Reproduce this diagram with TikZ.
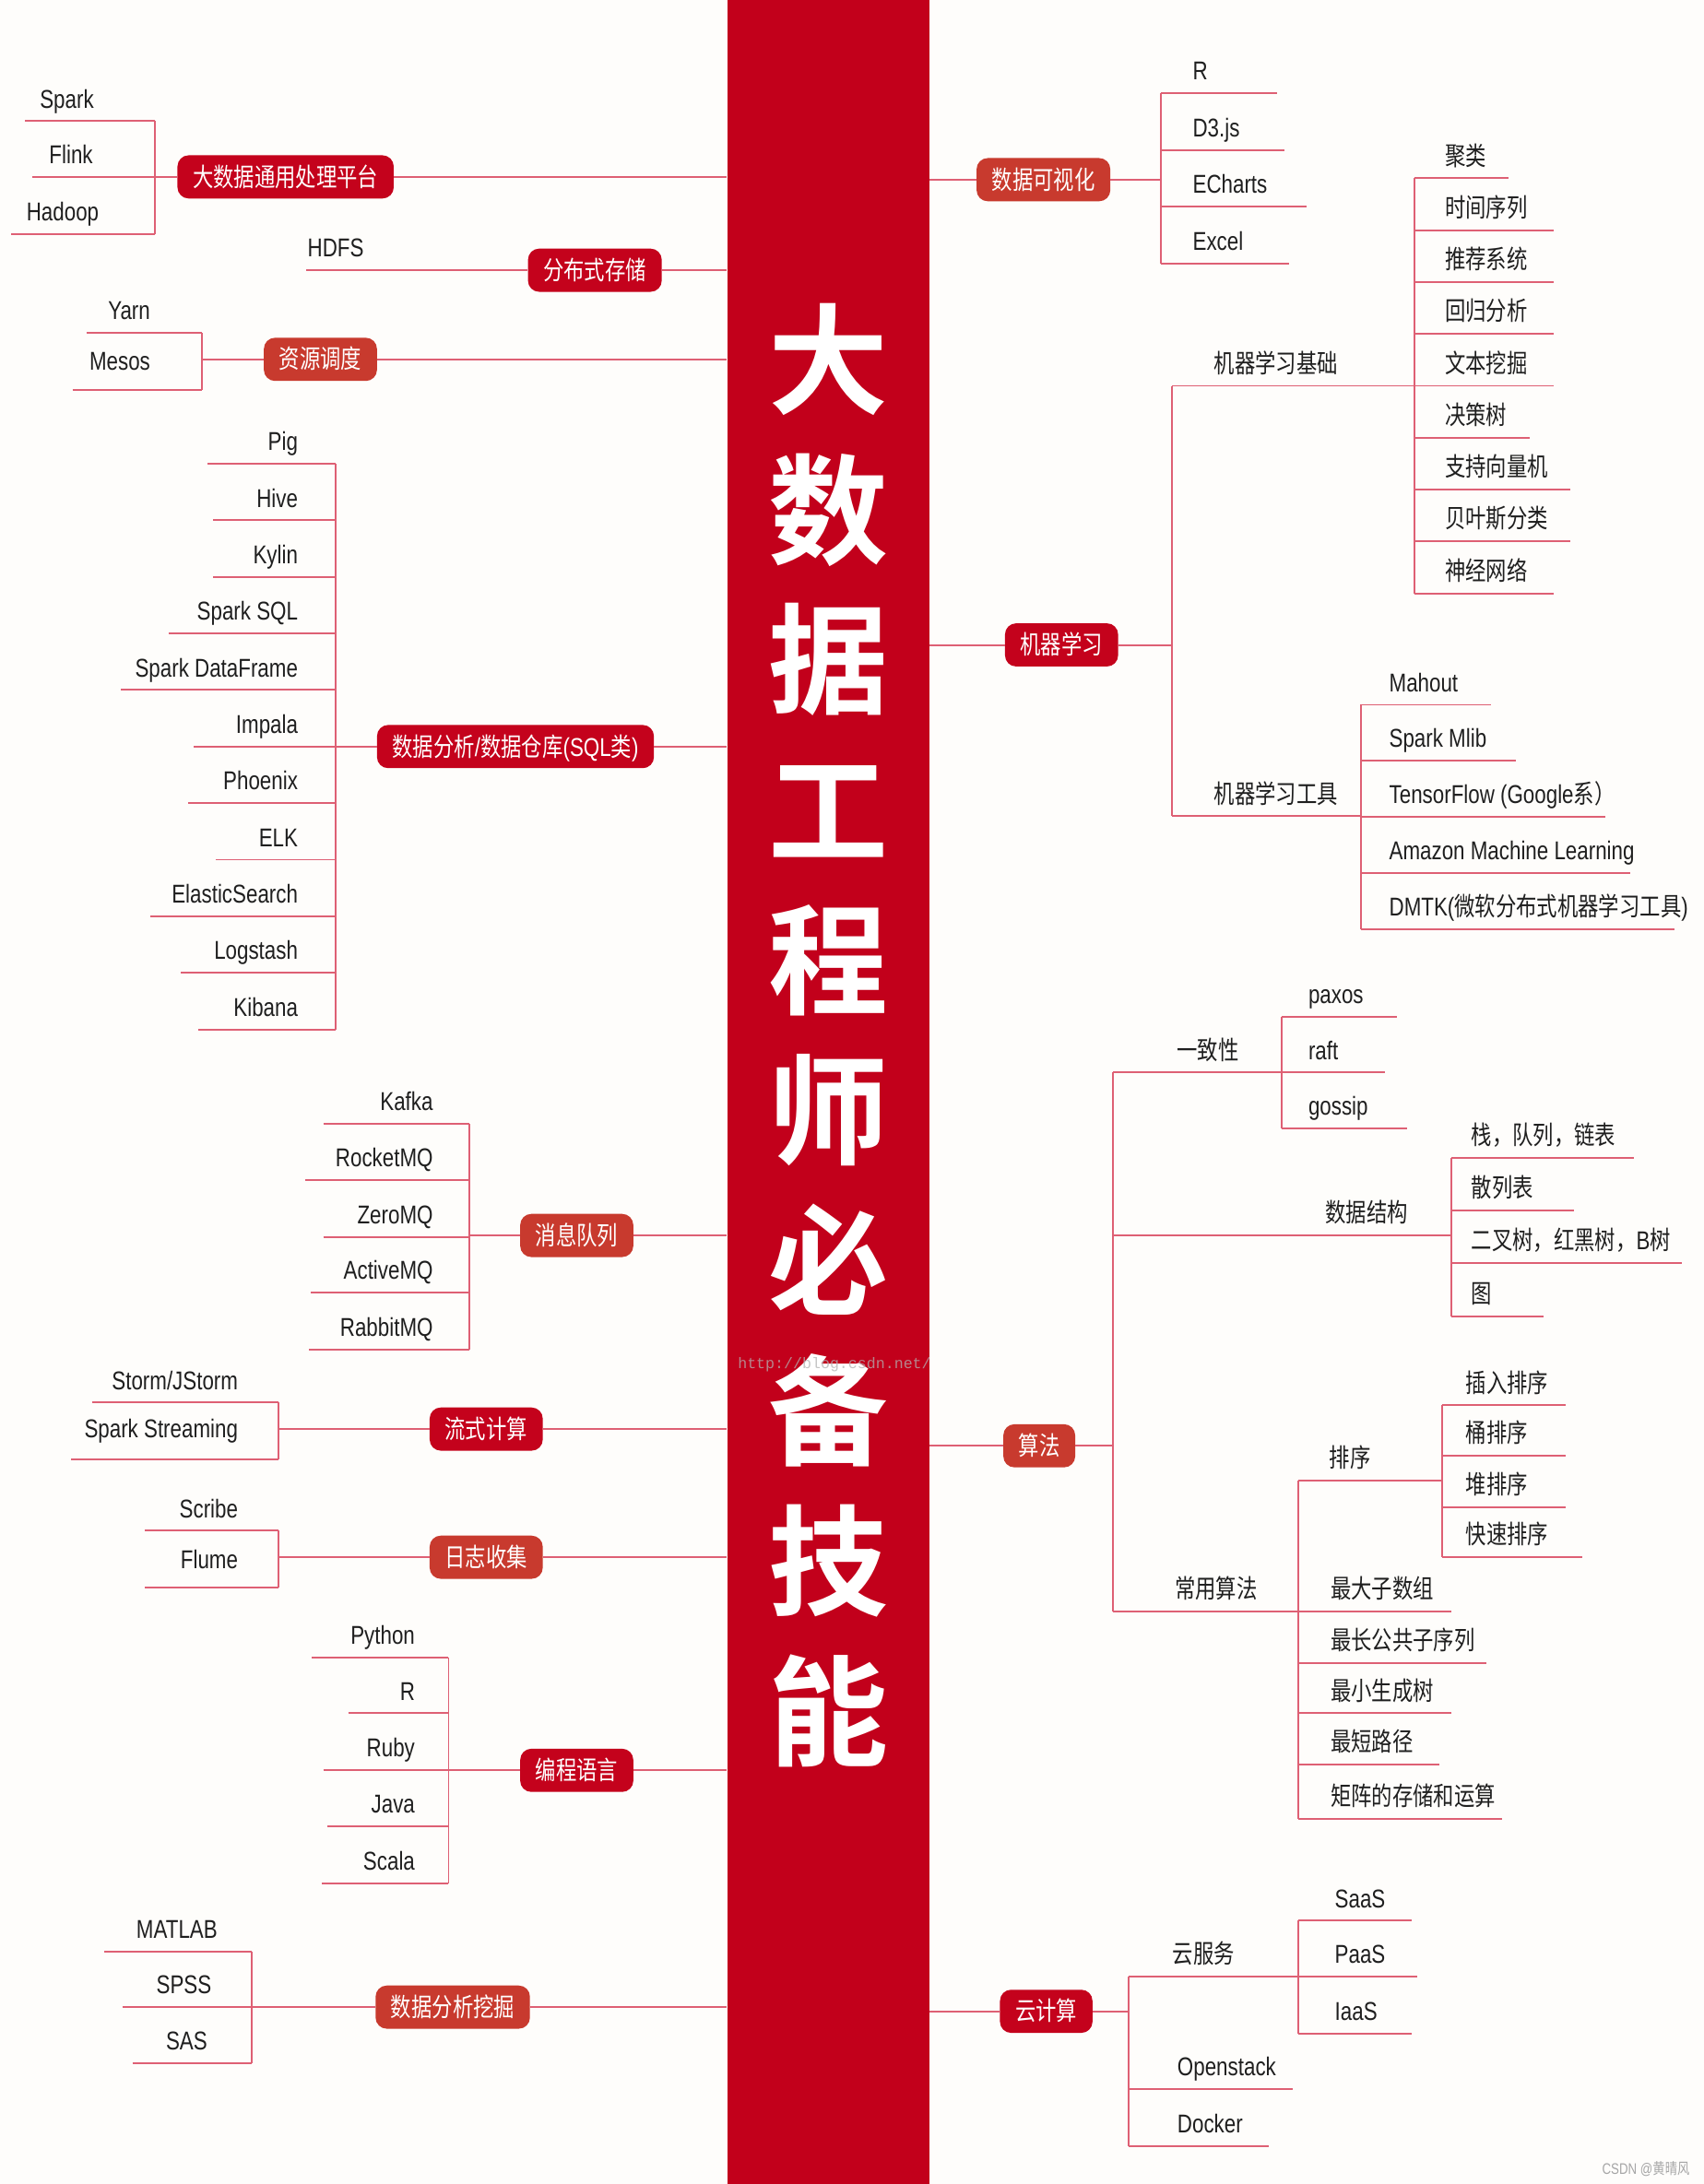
\documentclass[tikz,border=0pt]{standalone}
\usepackage{fontspec}
\setmainfont{Liberation Sans}[FakeStretch=0.8]
\newfontfamily\zhfont{Noto Sans CJK SC}[FakeStretch=0.8]
\newfontfamily\titelfont{Noto Sans CJK SC Bold}
\newfontfamily\webfont{Liberation Mono}
\newcommand\zh[1]{{\zhfont #1}}

\definecolor{balkrood}{RGB}{194,0,27}
\definecolor{donkerrood}{RGB}{196,2,28}
\definecolor{oranjerood}{RGB}{200,58,46}
\definecolor{takrood}{RGB}{222,96,116}
\definecolor{papier}{RGB}{254,253,251}

\tikzset{
  tak/.style={draw=takrood, line width=1.3pt},
  blad/.style={inner sep=0pt, anchor=base, text=black!88, font=\fontsize{18.5}{20}\selectfont},
  doos/.style={rounded corners=8pt, minimum height=31pt, inner xsep=11pt, inner ysep=0pt,
    text height=15pt, text depth=1.5pt, text=white, font=\fontsize{18.5}{20}\selectfont},
  doosA/.style={doos, fill=donkerrood},
  doosB/.style={doos, fill=oranjerood},
  titel/.style={inner sep=0pt, anchor=base, text=white, font=\titelfont\fontsize{86}{86}\selectfont},
}

\begin{document}
\begin{tikzpicture}[x=1pt,y=-1pt]
% Achtergrond
\fill[papier] (0,0) rectangle (1223,1568);
\useasboundingbox (0,0) rectangle (1223,1568);

% Balk
\node[fill=balkrood, minimum width=145pt, minimum height=1568pt, inner sep=0pt] (balk) at (594.5,784) {};

% Links: verwerking
\node[doosA] (bdp) at (205,127) {\zh{大数据通用处理平台}};
\draw[tak] (bdp.east) -- (bdp.east -| balk.west);
\draw[tak] (bdp.west) -- (111,127);
\draw[tak] (111,87) -- (111,168);
\foreach \t/\x/\y/\xs [count=\i] in {Spark/48/87/18, Flink/51/127/23, Hadoop/45/168/8}{
  \node[blad] (bdp-\i) at (\x,\y-9.5) {\t};
  \draw[tak] (\xs,\y) -- (111,\y);
}

% Links: opslag
\node[doosA] (opslag) at (427,194) {\zh{分布式存储}};
\draw[tak] (opslag.east) -- (opslag.east -| balk.west);
\node[blad] (hdfs) at (241,184.5) {HDFS};
\coordinate (hdfs-begin) at (220,194);
\draw[tak] (hdfs-begin) -- (opslag.west);

% Links: resources
\node[doosB] (res) at (230,258) {\zh{资源调度}};
\draw[tak] (res.east) -- (res.east -| balk.west);
\draw[tak] (res.west) -- (145,258);
\draw[tak] (145,239) -- (145,280);
\node[blad, anchor=base east] (yarn) at (108,229.5) {Yarn};
\node[blad, anchor=base east] (mesos) at (108,265.5) {Mesos};
\draw[tak] (62,239) -- (145,239);
\draw[tak] (52,280) -- (145,280);

% Links: SQL
\node[doosA] (sql) at (370,536) {\zh{数据分析}/\zh{数据仓库}(SQL\zh{类})};
\draw[tak] (sql.east) -- (sql.east -| balk.west);
\draw[tak] (sql.west) -- (241,536);
\draw[tak] (241,333) -- (241,739);
\foreach \t/\xs [count=\i from 0] in {Pig/149, Hive/153, Kylin/153, Spark SQL/121,
    Spark DataFrame/87, Impala/139, Phoenix/135, ELK/155, ElasticSearch/108,
    Logstash/130, Kibana/142}{
  \pgfmathsetmacro\yy{333+40.6*\i}
  \node[blad, anchor=base east] (sql-\i) at (214,\yy-9.5) {\t};
  \draw[tak] (\xs,\yy) -- (241,\yy);
}

% Links: berichten
\node[doosB] (mq) at (414,887) {\zh{消息队列}};
\draw[tak] (mq.east) -- (mq.east -| balk.west);
\draw[tak] (mq.west) -- (337,887);
\draw[tak] (337,807) -- (337,969);
\foreach \t/\y/\xs [count=\i] in {Kafka/807/232, RocketMQ/847/219, ZeroMQ/888/232,
    ActiveMQ/928/223, RabbitMQ/969/222}{
  \node[blad, anchor=base east] (mq-\i) at (311,\y-9.5) {\t};
  \draw[tak] (\xs,\y) -- (337,\y);
}

% Links: stroom
\node[doosA] (stroom) at (349,1026) {\zh{流式计算}};
\draw[tak] (stroom.east) -- (stroom.east -| balk.west);
\draw[tak] (stroom.west) -- (200,1026);
\draw[tak] (200,1007) -- (200,1048);
\node[blad, anchor=base east] (storm) at (171,997.5) {Storm/JStorm};
\node[blad, anchor=base east] (streaming) at (171,1032.5) {Spark Streaming};
\draw[tak] (66,1007) -- (200,1007);
\draw[tak] (51,1048) -- (200,1048);

% Links: logs
\node[doosB] (log) at (349,1118) {\zh{日志收集}};
\draw[tak] (log.east) -- (log.east -| balk.west);
\draw[tak] (log.west) -- (200,1118);
\draw[tak] (200,1099) -- (200,1140);
\node[blad, anchor=base east] (scribe) at (171,1089.5) {Scribe};
\node[blad, anchor=base east] (flume) at (171,1126.5) {Flume};
\draw[tak] (104,1099) -- (200,1099);
\draw[tak] (104,1140) -- (200,1140);

% Links: talen
\node[doosA] (taal) at (414,1271) {\zh{编程语言}};
\draw[tak] (taal.east) -- (taal.east -| balk.west);
\draw[tak] (taal.west) -- (322,1271);
\draw[tak] (322,1190) -- (322,1352);
\foreach \t/\y/\xs [count=\i] in {Python/1190/224, R/1230/250, Ruby/1271/232,
    Java/1311/235, Scala/1352/231}{
  \node[blad, anchor=base east] (taal-\i) at (298,\y-9.5) {\t};
  \draw[tak] (\xs,\y) -- (322,\y);
}

% Links: mining
\node[doosB] (mining) at (325,1441) {\zh{数据分析挖掘}};
\draw[tak] (mining.east) -- (mining.east -| balk.west);
\draw[tak] (mining.west) -- (181,1441);
\draw[tak] (181,1401) -- (181,1481);
\foreach \t/\x/\y/\xs [count=\i] in {MATLAB/127/1401/75, SPSS/132/1441/88, SAS/134/1481/95}{
  \node[blad] (mining-\i) at (\x,\y-9.5) {\t};
  \draw[tak] (\xs,\y) -- (181,\y);
}

% Rechts: visualisatie
\node[doosB] (vis) at (749,129) {\zh{数据可视化}};
\draw[tak] (balk.east |- vis.west) -- (vis.west);
\draw[tak] (vis.east) -- (833,129);
\draw[tak] (833,67) -- (833,189);
\foreach \t/\y/\xe [count=\i] in {R/67/917, D3.js/108/922, ECharts/148/938, Excel/189/925}{
  \node[blad, anchor=base west] (vis-\i) at (856,\y-9.5) {\t};
  \draw[tak] (833,\y) -- (\xe,\y);
}

% Rechts: machine learning
\node[doosA] (ml) at (762,463) {\zh{机器学习}};
\draw[tak] (balk.east |- ml.west) -- (ml.west);
\draw[tak] (ml.east) -- (841,463);
\draw[tak] (841,277) -- (841,586);
\node[blad] (mlbasis) at (916,267.5) {\zh{机器学习基础}};
\draw[tak] (841,277) -- (1015,277);
\draw[tak] (1015,128) -- (1015,426);
\foreach \t/\xe [count=\i from 0] in {\zh{聚类}/1083, \zh{时间序列}/1115, \zh{推荐系统}/1115,
    \zh{回归分析}/1115, \zh{文本挖掘}/1115, \zh{决策树}/1098, \zh{支持向量机}/1127,
    \zh{贝叶斯分类}/1127, \zh{神经网络}/1115}{
  \pgfmathsetmacro\yy{128+37.25*\i}
  \node[blad, anchor=base west] (basis-\i) at (1037,\yy-9.5) {\t};
  \draw[tak] (1015,\yy) -- (\xe,\yy);
}
\node[blad] (mltools) at (916,576.5) {\zh{机器学习工具}};
\draw[tak] (841,586) -- (977,586);
\draw[tak] (977,506) -- (977,667);
\foreach \t/\xe [count=\i from 0] in {Mahout/1070, Spark Mlib/1088,
    TensorFlow (Google\zh{系）}/1152, Amazon Machine Learning/1170,
    DMTK(\zh{微软分布式机器学习工具})/1202}{
  \pgfmathsetmacro\yy{506+40.25*\i}
  \node[blad, anchor=base west] (tools-\i) at (997,\yy-9.5) {\t};
  \draw[tak] (977,\yy) -- (\xe,\yy);
}

% Rechts: algoritmen
\node[doosB] (algo) at (746,1038) {\zh{算法}};
\draw[tak] (balk.east |- algo.west) -- (algo.west);
\draw[tak] (algo.east) -- (799,1038);
\draw[tak] (799,770) -- (799,1157);
% consistentie
\node[blad] (consist) at (867,760.5) {\zh{一致性}};
\draw[tak] (799,770) -- (920,770);
\draw[tak] (920,730) -- (920,810);
\foreach \t/\y/\xe [count=\i] in {paxos/730/1003, raft/770/994, gossip/810/1010}{
  \node[blad, anchor=base west] (consist-\i) at (939,\y-9.5) {\t};
  \draw[tak] (920,\y) -- (\xe,\y);
}
% datastructuren
\node[blad] (ds) at (981,877.5) {\zh{数据结构}};
\draw[tak] (799,887) -- (1042,887);
\draw[tak] (1042,831) -- (1042,945);
\foreach \t/\y/\xe [count=\i] in {\zh{栈，队列，链表}/831/1173, \zh{散列表}/869/1130,
    \zh{二叉树，红黑树，}B\zh{树}/907/1207, \zh{图}/945/1108}{
  \node[blad, anchor=base west] (ds-\i) at (1056,\y-9.5) {\t};
  \draw[tak] (1042,\y) -- (\xe,\y);
}
% gangbare algoritmen
\node[blad] (gangbaar) at (873,1147.5) {\zh{常用算法}};
\draw[tak] (799,1157) -- (932,1157);
\draw[tak] (932,1063) -- (932,1306);
\node[blad] (sort) at (969,1053.5) {\zh{排序}};
\draw[tak] (932,1063) -- (1035,1063);
\draw[tak] (1035,1009) -- (1035,1118);
\foreach \t/\y/\xe [count=\i] in {\zh{插入排序}/1009/1124, \zh{桶排序}/1045/1124,
    \zh{堆排序}/1082/1124, \zh{快速排序}/1118/1136}{
  \node[blad, anchor=base west] (sort-\i) at (1052,\y-9.5) {\t};
  \draw[tak] (1035,\y) -- (\xe,\y);
}
\foreach \t/\y/\xe [count=\i] in {\zh{最大子数组}/1157/1042, \zh{最长公共子序列}/1194/1067,
    \zh{最小生成树}/1230/1042, \zh{最短路径}/1267/1033, \zh{矩阵的存储和运算}/1306/1078}{
  \node[blad, anchor=base west] (gangbaar-\i) at (955,\y-9.5) {\t};
  \draw[tak] (932,\y) -- (\xe,\y);
}

% Rechts: cloud
\node[doosA] (cloud) at (751,1444) {\zh{云计算}};
\draw[tak] (balk.east |- cloud.west) -- (cloud.west);
\draw[tak] (cloud.east) -- (810,1444);
\draw[tak] (810,1419) -- (810,1541);
\node[blad] (dienst) at (864,1409.5) {\zh{云服务}};
\draw[tak] (810,1419) -- (932,1419);
\draw[tak] (932,1379) -- (932,1460);
\foreach \t/\y/\xe [count=\i] in {SaaS/1379/1013, PaaS/1419/1017, IaaS/1460/1013}{
  \node[blad, anchor=base west] (dienst-\i) at (958,\y-9.5) {\t};
  \draw[tak] (932,\y) -- (\xe,\y);
}
\node[blad, anchor=base west] (openstack) at (845,1490.5) {Openstack};
\draw[tak] (810,1500) -- (928,1500);
\node[blad, anchor=base west] (docker) at (845,1531.5) {Docker};
\draw[tak] (810,1541) -- (911,1541);

% Titel
\foreach \c [count=\i from 0] in {大,数,据,工,程,师,必,备,技,能}{
  \node[titel] (titel-\i) at (594.5,{258+107.8*\i+32.7}) {\c};
}

% Watermerken
\node[text=gray!60, opacity=0.75, font=\webfont\fontsize{11}{11}\selectfont] (web) at (599,980) {http://blog.csdn.net/};
\node[text=gray!70, anchor=east, inner sep=0pt, font=\fontsize{11}{11}\selectfont] (csdn) at (1213,1557) {CSDN @\zh{黄晴风}};
\end{tikzpicture}
\end{document}
